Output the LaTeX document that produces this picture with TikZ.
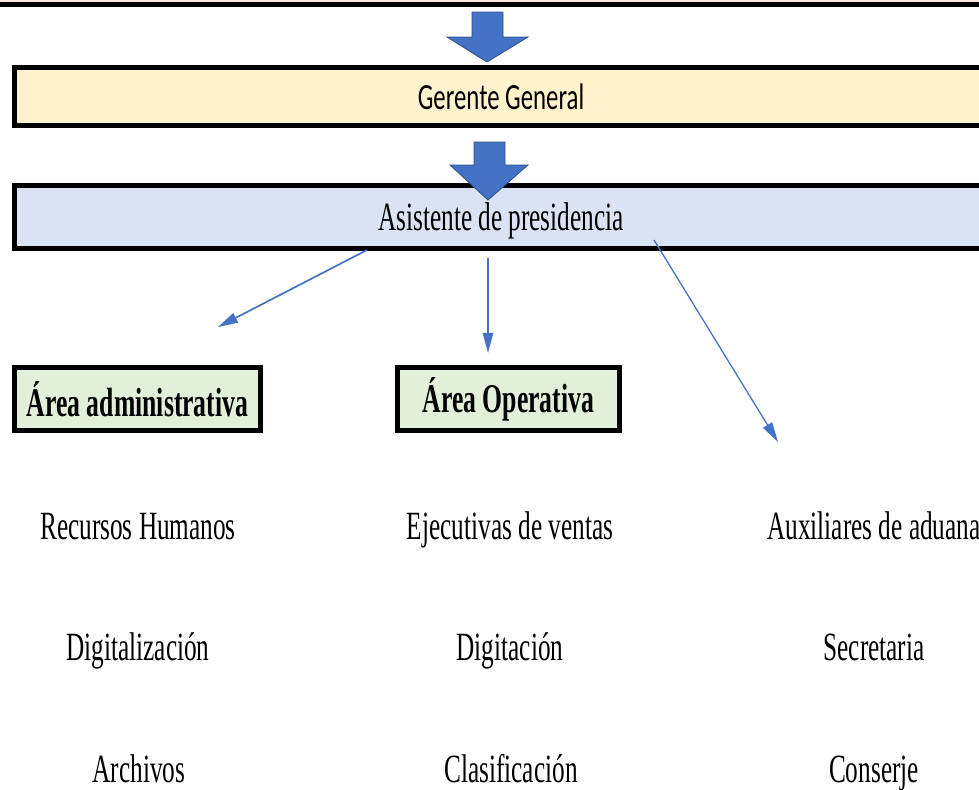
\documentclass[tikz,border=0pt]{standalone}
\usepackage{fontspec}
\setmainfont{Liberation Serif}[FakeStretch=0.63]
\newfontfamily\calfont{Carlito}[FakeStretch=0.67]
\usepackage{tikz}
\usetikzlibrary{arrows.meta, positioning}
\usepackage{xcolor}
\definecolor{peach}{HTML}{FBE5D6}
\definecolor{gerfill}{HTML}{FFF2CC}
\definecolor{asisfill}{HTML}{DAE3F3}
\definecolor{areafill}{HTML}{E2F0D9}
\definecolor{azul}{HTML}{4472C4}
\definecolor{azuloscuro}{HTML}{2F528F}

\begin{document}
\begin{tikzpicture}[x=0.025cm, y=-0.025cm,
    barra/.style={draw=black, line width=3.5pt, inner sep=0pt,
      minimum width=24.325cm},
    area/.style={draw=black, line width=3.5pt, fill=areafill, inner sep=0pt,
      minimum height=1.575cm, font=\fontsize{29}{34}\selectfont\bfseries},
    puesto/.style={anchor=base, inner sep=0pt, font=\fontsize{28.5}{34}\selectfont},
    conector/.style={draw=azul, line width=1.2pt,
      -{Triangle[length=0.5cm, width=0.26cm]}},
    flecha/.style={fill=azul, draw=azuloscuro, line width=0.6pt}]
  \useasboundingbox (0,0) rectangle (979,789);
  \clip (0,0) rectangle (979,789);

  % franja superior (caja cortada)
  \draw[fill=peach, draw=black, line width=3.5pt] (-20,-60) rectangle (1000,4.5);

  % flechas de bloque
  \draw[flecha] (472,12) -- (503,12) -- (503,37) -- (528,37) -- (487,62)
    -- (447,37) -- (472,37) -- cycle;

  \node[barra, fill=gerfill, minimum height=1.45cm,
        font=\calfont\fontsize{26.3}{31}\selectfont] (gerente) at (501,96.5)
    {Gerente General};

  \node[barra, fill=asisfill, minimum height=1.575cm, text depth=0pt,
        font=\fontsize{28.5}{34}\selectfont] (asistente) at (501,217)
    {Asistente de presidencia};

  \draw[flecha] (474,142) -- (505,142) -- (505,165) -- (528,165) -- (488,200)
    -- (450,165) -- (474,165) -- cycle;

  % areas
  \node[area, minimum width=6.15cm] (administrativa) at (137.5,399)
    {Área administrativa};
  \node[area, minimum width=5.55cm] (operativa) at (508.5,399)
    {Área Operativa};

  % conectores
  \coordinate (s-adm) at (367,250);
  \coordinate (e-adm) at (218,327);
  \coordinate (s-ope) at (488,258);
  \coordinate (e-ope) at (488,353);
  \coordinate (s-adu) at (654,240);
  \coordinate (e-adu) at (778,442);
  \draw[conector] (s-adm) -- (e-adm);
  \draw[conector, line width=0.9pt] (s-ope) -- (e-ope);
  \draw[conector, line width=0.9pt] (s-adu) -- (e-adu);

  % puestos
  \node[puesto] (rrhh) at (138,539) {Recursos Humanos};
  \node[puesto] (digitalizacion) at (138,660) {Digitalización};
  \node[puesto] (archivos) at (139,782) {Archivos};

  \node[puesto] (ejecutivas) at (510,539) {Ejecutivas de ventas};
  \node[puesto] (digitacion) at (510,660) {Digitación};
  \node[puesto] (clasificacion) at (511,782) {Clasificación};

  \node[puesto] (auxiliares) at (874,539) {Auxiliares de aduana};
  \node[puesto] (secretaria) at (874,660) {Secretaria};
  \node[puesto] (conserje) at (874,782) {Conserje};
\end{tikzpicture}
\end{document}
